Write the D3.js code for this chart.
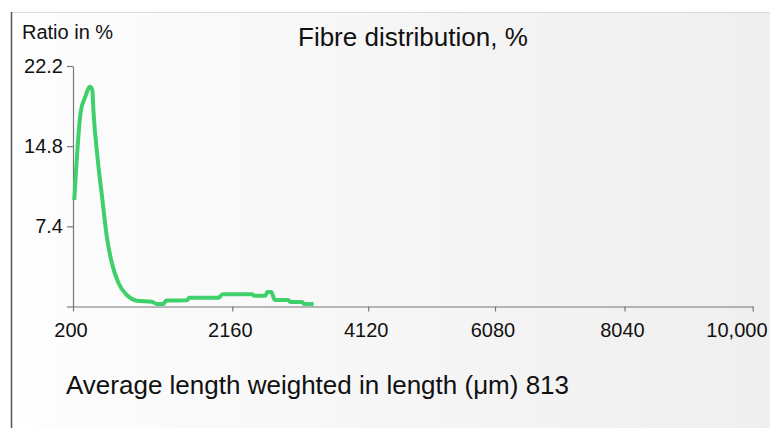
<!DOCTYPE html>
<html>
<head>
<meta charset="utf-8">
<script src="https://cdn.jsdelivr.net/npm/d3@7"></script>
<style>
  html, body { margin: 0; padding: 0; background: #ffffff; }
  svg { display: block; font-family: "Liberation Sans", Arial, Helvetica, sans-serif; }
</style>
</head>
<body>
<svg id="chart" width="770" height="428"></svg>
<script>
// ---- data ----
const lengths = [216, 295, 348, 410, 438, 451, 505, 562, 616, 678, 759, 863, 986, 1170, 1232, 1313, 1346, 1602, 1630, 1992, 2040, 2444, 2477, 2636, 2665, 2722, 2772, 2966, 2995, 3165, 3198, 3332];
const ratios  = [9.83, 17.97, 19.3, 20.28, 19.98, 18.13, 13.52, 9.83, 6.44, 4.01, 2.17, 1.06, 0.54, 0.44, 0.23, 0.23, 0.55, 0.57, 0.81, 0.81, 1.13, 1.13, 1.0, 1.0, 1.34, 1.34, 0.6, 0.6, 0.42, 0.42, 0.23, 0.23];
const xTickValues = [200, 2160, 4120, 6080, 8040, 10000];
const xTickLabels = ["200", "2160", "4120", "6080", "8040", "10,000"];
const yTickValues = [0, 7.4, 14.8, 22.2];
const yTickLabels = ["", "7.4", "14.8", "22.2"];
const titleText = "Fibre distribution, %";
const yTitleText = "Ratio in %";
const footerText = "Average length weighted in length (\u03BCm) 813";

const svg = d3.select("#chart");
const W = 770, H = 428;

// background panel
const defs = svg.append("defs");
const grad = defs.append("linearGradient").attr("id", "bg").attr("x1", "0").attr("x2", "1").attr("y1", "0").attr("y2", "0");
grad.append("stop").attr("offset", "0").attr("stop-color", "#ffffff");
grad.append("stop").attr("offset", "0.08").attr("stop-color", "#fcfcfc");
grad.append("stop").attr("offset", "1").attr("stop-color", "#efefef");
svg.append("rect").attr("x", 11).attr("y", 12).attr("width", W - 11).attr("height", H - 12).attr("fill", "url(#bg)");
svg.append("line").attr("x1", 11).attr("x2", W).attr("y1", 12.5).attr("y2", 12.5).attr("stroke", "#dcdcdc").attr("stroke-width", 1);
svg.append("line").attr("x1", 11.5).attr("x2", 11.5).attr("y1", 12).attr("y2", H).attr("stroke", "#555").attr("stroke-width", 1.5);

// scales
const x = d3.scaleLinear().domain(xTickValues).range([73, 232.3, 368.2, 495, 624.5, 752.7]);
const y = d3.scaleLinear().domain([0, 22.2]).range([306.5, 66]);

// axes
const xAxis = d3.axisBottom(x).tickValues(xTickValues)
  .tickFormat((d, i) => xTickLabels[i]).tickSize(5).tickSizeOuter(0).tickPadding(11);
const yAxis = d3.axisLeft(y).tickValues(yTickValues)
  .tickFormat((d, i) => yTickLabels[i]).tickSize(6).tickSizeOuter(0).tickPadding(4);

const gx = svg.append("g").attr("transform", `translate(0,${y(0)})`).call(xAxis);
const gy = svg.append("g").attr("transform", `translate(${x(200)},0)`).call(yAxis);
[gx, gy].forEach(g => {
  g.selectAll("path, line").attr("stroke", "#777").attr("stroke-width", 1.2);
  g.selectAll("text").attr("fill", "#111").style("font-size", "20px")
    .style("font-family", "'Liberation Sans', Arial, sans-serif");
});
// x labels sit slightly left of their ticks; the last one is kept inside the frame
gx.selectAll(".tick text").attr("dx", -2.5);
gx.selectAll(".tick").filter((d, i) => i === xTickValues.length - 1).select("text")
  .attr("text-anchor", "end").attr("dx", 0).attr("x", 767 - x(10000));

// line
const data = lengths.map((l, i) => ({ l, r: ratios[i] }));
const line = d3.line().x(d => x(d.l)).y(d => y(d.r)).curve(d3.curveMonotoneX);
svg.append("path").datum(data).attr("d", line)
  .attr("fill", "none").attr("stroke", "#3fd06b").attr("stroke-width", 4).attr("stroke-linejoin", "round");

// texts
svg.append("text").attr("x", 22).attr("y", 38.5).attr("fill", "#111").style("font-size", "20px").text(yTitleText);
svg.append("text").attr("x", 298).attr("y", 46).attr("fill", "#111").style("font-size", "26px").text(titleText);
svg.append("text").attr("x", 66).attr("y", 394).attr("fill", "#111").style("font-size", "26px").text(footerText);
</script>
</body>
</html>
